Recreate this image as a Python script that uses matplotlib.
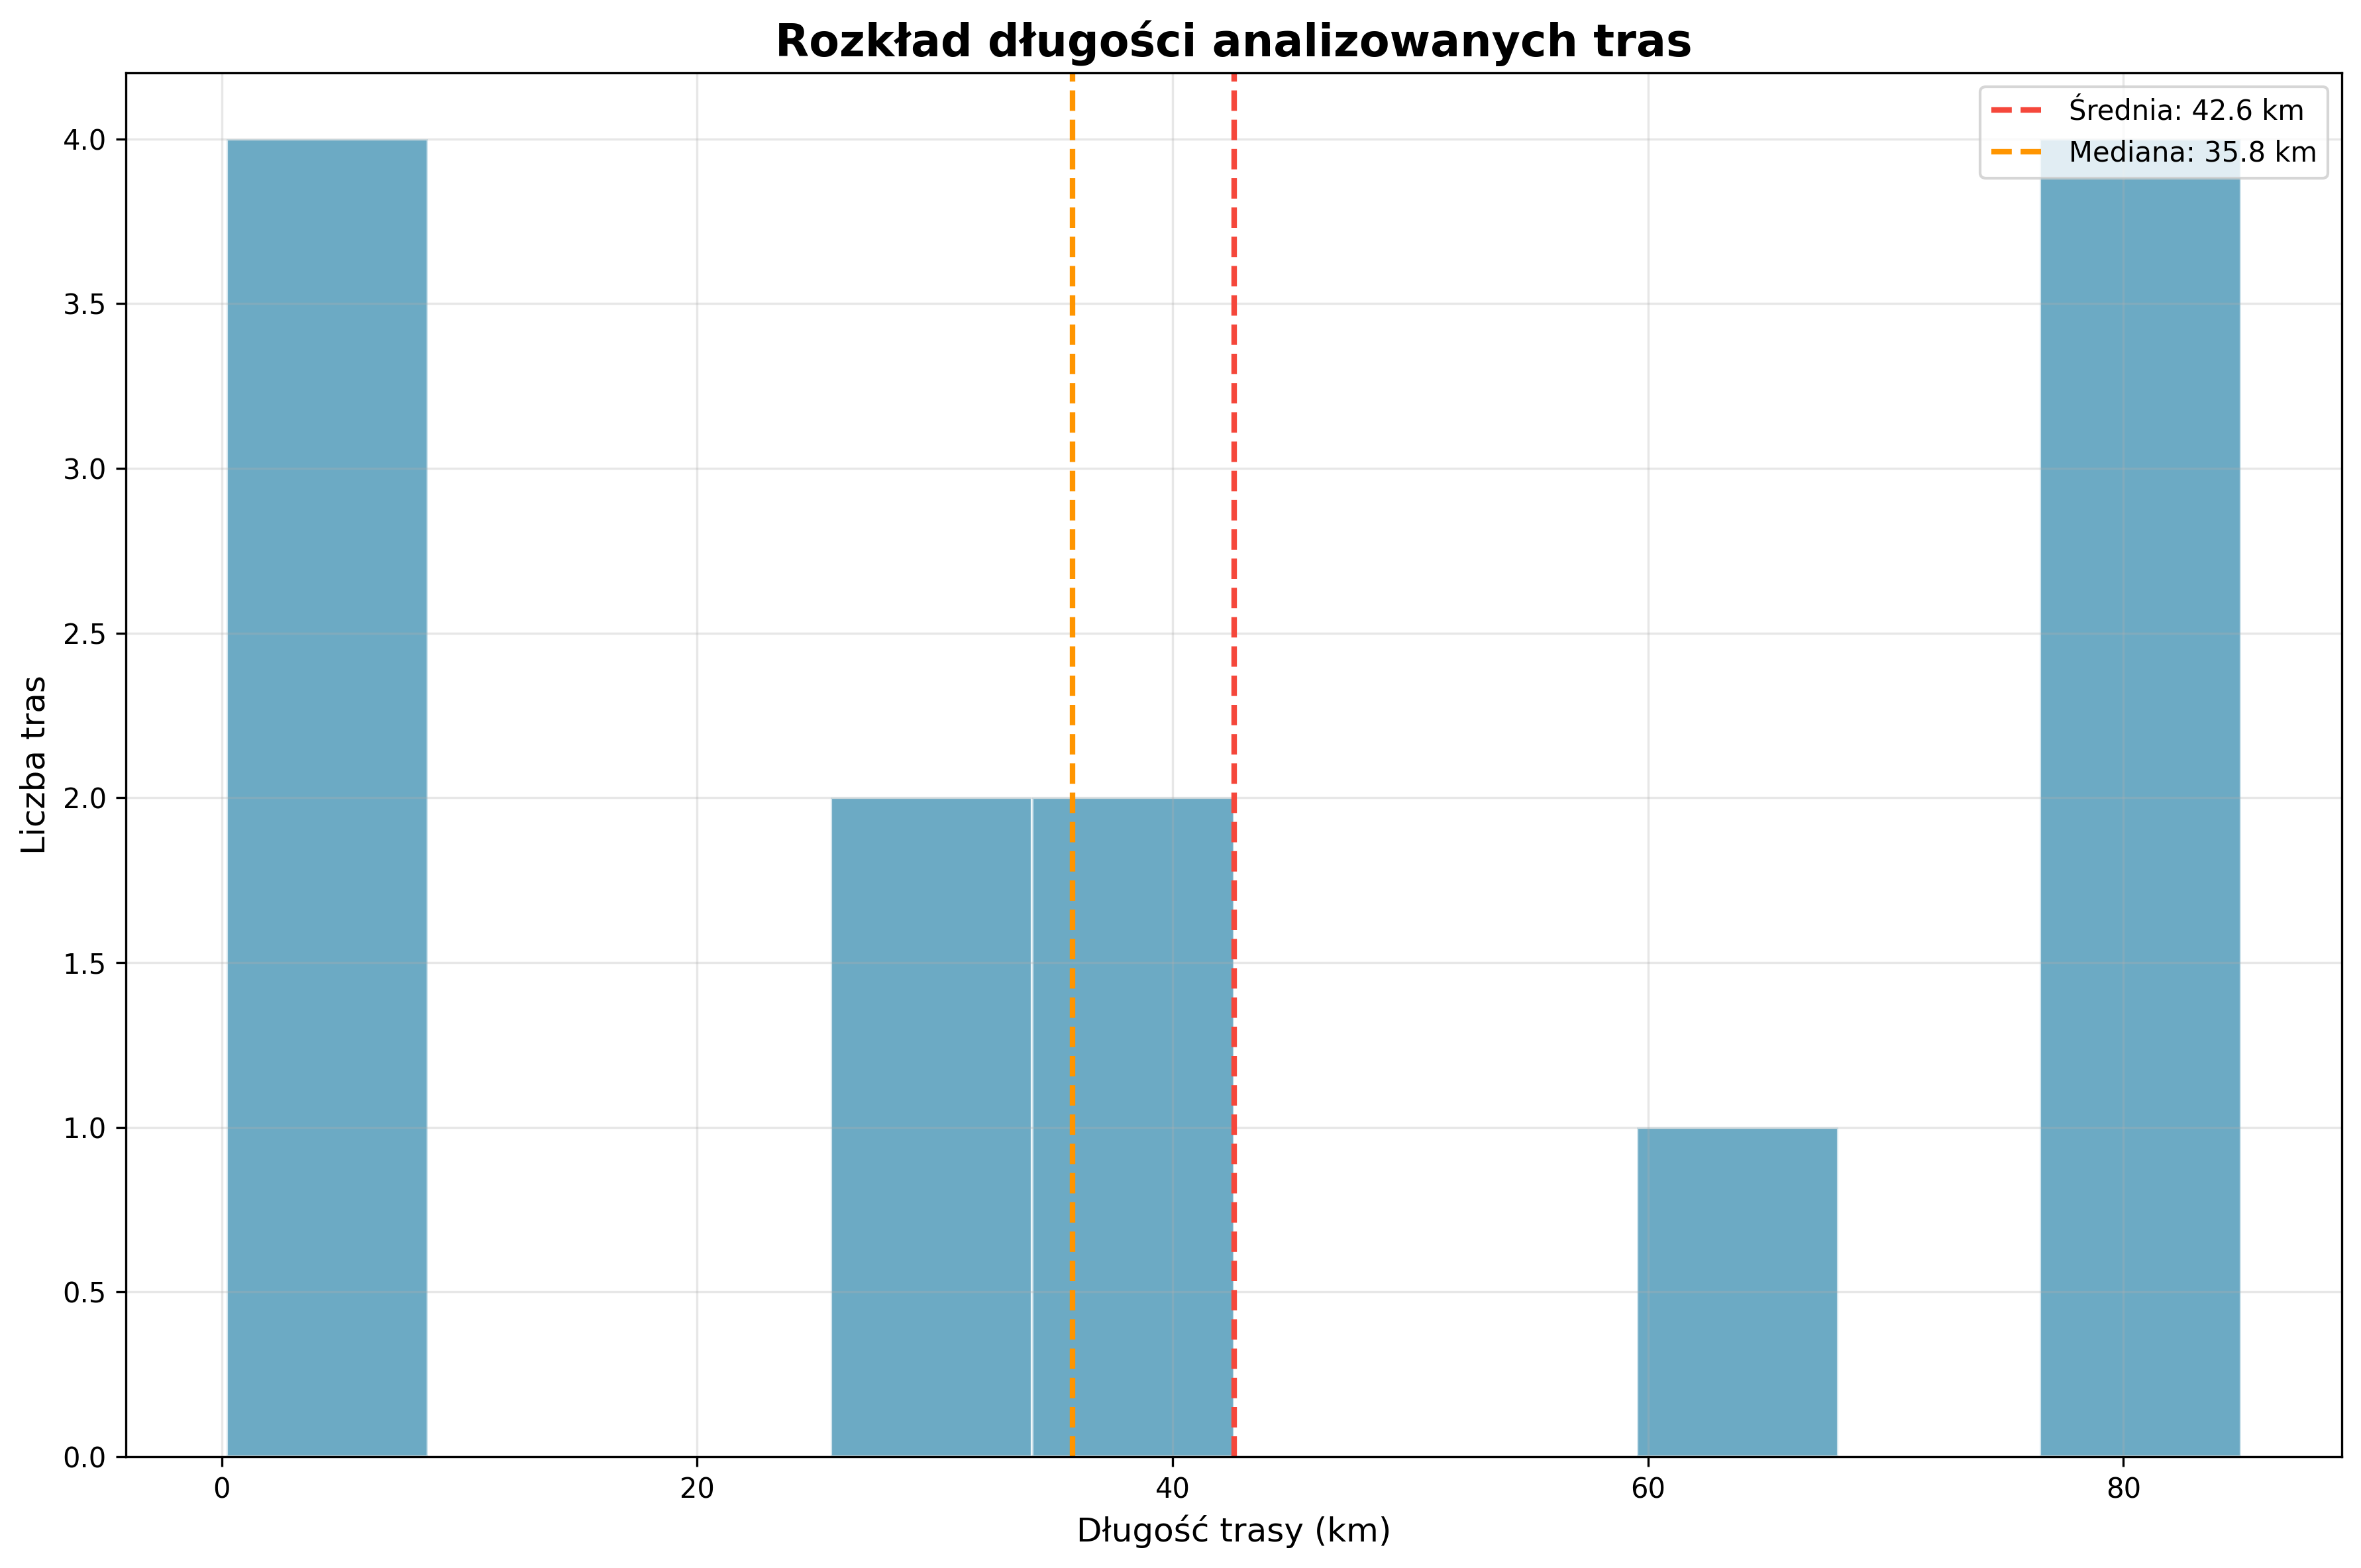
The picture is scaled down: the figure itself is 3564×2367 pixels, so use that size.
import numpy as np
import matplotlib
matplotlib.use("Agg")
import matplotlib.pyplot as plt

# Histogram data (10 bins)
bin_min = 0.2
bin_max = 84.95
n_bins = 10
counts = [4, 0, 0, 2, 2, 0, 0, 1, 0, 4]
mean_km = 42.6
median_km = 35.8

edges = np.linspace(bin_min, bin_max, n_bins + 1)
lefts = edges[:-1]

fig = plt.figure(figsize=(11.88, 7.89), dpi=300)
ax = fig.add_axes([0.0533, 0.0710, 0.9919 - 0.0533, 0.9535 - 0.0710])

ax.hist(lefts, bins=edges, weights=counts, color='#2E86AB', alpha=0.7,
        edgecolor='white', linewidth=1)
ax.axvline(mean_km, color='#F5473B', linestyle='--', linewidth=2,
           label=f'Średnia: {mean_km:.1f} km')
ax.axvline(median_km, color='#FF9500', linestyle='--', linewidth=2,
           label=f'Mediana: {median_km:.1f} km')

ax.set_title('Rozkład długości analizowanych tras', fontsize=16, fontweight='bold')
ax.set_xlabel('Długość trasy (km)', fontsize=12)
ax.set_ylabel('Liczba tras', fontsize=12)
ax.grid(True, alpha=0.3)
ax.legend(loc='upper right')

fig.savefig('out.png', dpi=300)
